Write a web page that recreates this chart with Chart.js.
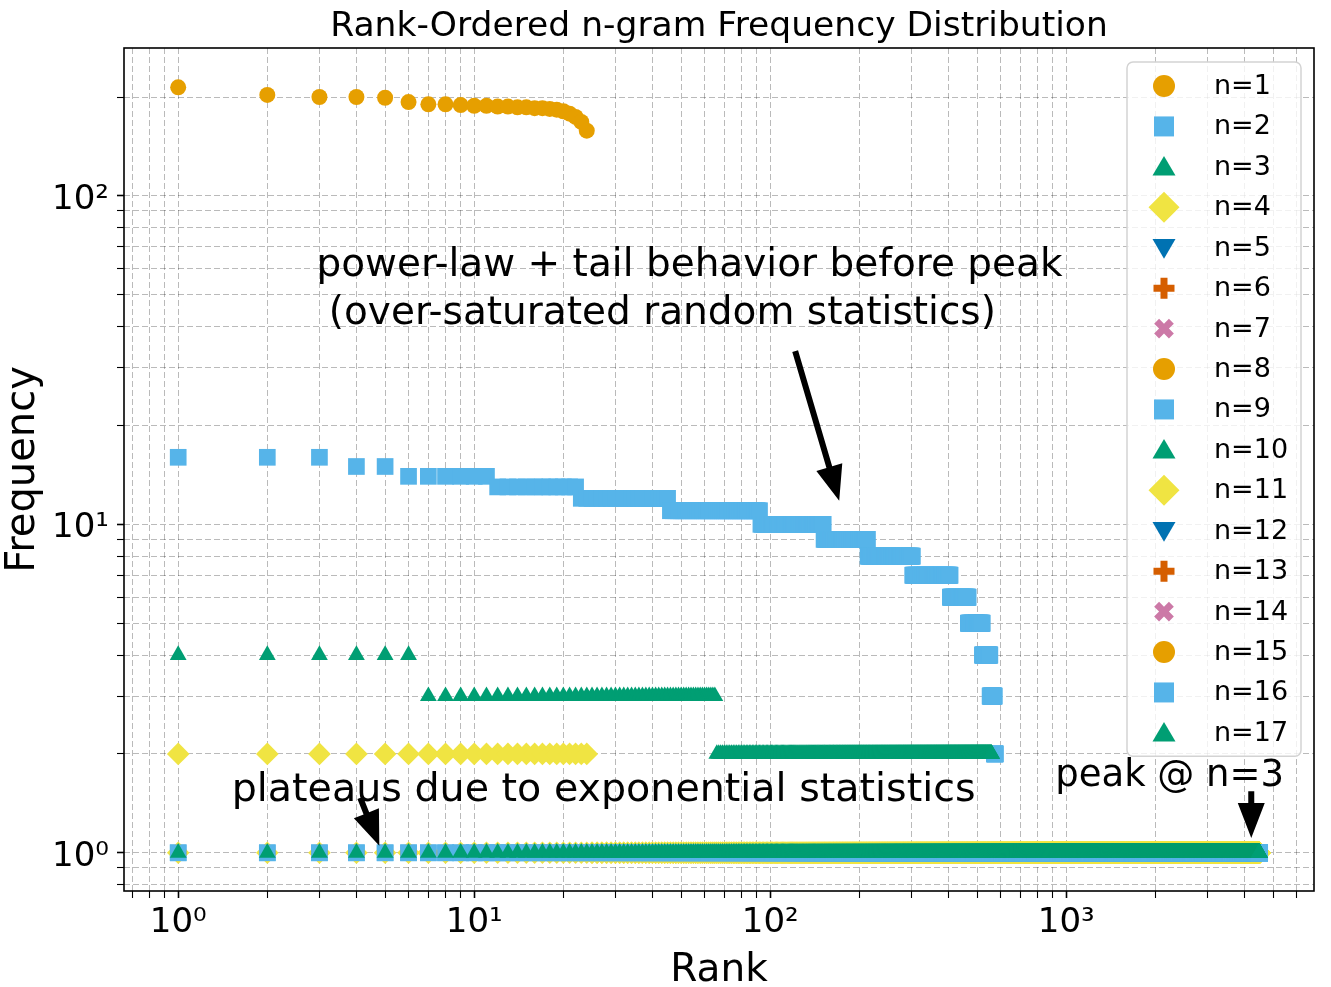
<!DOCTYPE html>
<html lang="en">
<head>
<meta charset="UTF-8">
<title>Rank-Ordered n-gram Frequency Distribution</title>
<script src="https://cdn.jsdelivr.net/npm/chart.js"></script>
<style>
  html, body { margin: 0; padding: 0; background: #fff; }
  #chart { display: block; }
</style>
</head>
<body>
<canvas id="chart" width="1331" height="987"></canvas>
<script>
const seriesLabels = ['n=1', 'n=2', 'n=3', 'n=4', 'n=5', 'n=6', 'n=7', 'n=8', 'n=9',
                      'n=10', 'n=11', 'n=12', 'n=13', 'n=14', 'n=15', 'n=16', 'n=17'];

// n=1: one count per rank (24 symbols)
const unigramFreq = [214, 203, 200, 200, 199, 193, 190, 190, 189, 188, 188, 187,
                     187, 186, 186, 185, 185, 184, 183, 181, 178, 174, 168, 158];

// n=2..4 sit on plateaus: frequency level + how many ranks share it
const bigramLevels = [16, 15, 14, 13, 12, 11, 10, 9, 8, 7, 6, 5, 4, 3, 2];
const bigramRuns   = [3, 2, 6, 11, 23, 47, 59, 62, 89, 103, 61, 54, 32, 19, 5];
const trigramLevels = [4, 3, 2, 1];
const trigramRuns   = [6, 59, 495, 3318];
const fourgramLevels = [2, 1];
const fourgramRuns   = [24, 4460];
// n=5..17: every n-gram is seen once -> number of ranks at frequency 1
const singletonRuns = [4507, 4506, 4505, 4504, 4503, 4502, 4501, 4500, 4499, 4498, 4497, 4496, 4495];

// axis ticks
const xTickValues = [1, 10, 100, 1000];
const xTickLabels = ['10⁰', '10¹', '10²', '10³'];
const yTickValues = [1, 10, 100];
const yTickLabels = ['10⁰', '10¹', '10²'];

const FONT = "'DejaVu Sans', sans-serif";
const palette = ['#E69F00', '#56B4E9', '#009E73', '#F0E442', '#0072B2', '#D55E00', '#CC79A7'];
const shapes = ['circle', 'square', 'triangle', 'diamond', 'triangleDown', 'plus', 'cross'];

function drawMarker(c, shape, x, y, s, color) {
    const h = s / 2;
    c.fillStyle = color;
    c.beginPath();
    if (shape === 'circle') {
        c.arc(x, y, h, 0, Math.PI * 2);
    } else if (shape === 'square') {
        c.rect(x - h, y - h, s, s);
    } else if (shape === 'triangle') {
        c.moveTo(x, y - h * 0.95); c.lineTo(x + h, y + h * 0.75); c.lineTo(x - h, y + h * 0.75);
    } else if (shape === 'triangleDown') {
        c.moveTo(x, y + h * 0.95); c.lineTo(x + h, y - h * 0.75); c.lineTo(x - h, y - h * 0.75);
    } else if (shape === 'diamond') {
        c.moveTo(x, y - h); c.lineTo(x + h, y); c.lineTo(x, y + h); c.lineTo(x - h, y);
    } else {
        // filled plus, rotated 45deg for the cross
        const a = s / 6;
        const pts = [[-a, -h], [a, -h], [a, -a], [h, -a], [h, a], [a, a], [a, h], [-a, h], [-a, a], [-h, a], [-h, -a], [-a, -a]];
        const r = shape === 'cross' ? Math.PI / 4 : 0;
        const k = shape === 'cross' ? 0.95 : 1;
        pts.forEach((p, i) => {
            const px = x + k * (p[0] * Math.cos(r) - p[1] * Math.sin(r));
            const py = y + k * (p[0] * Math.sin(r) + p[1] * Math.cos(r));
            if (i === 0) c.moveTo(px, py); else c.lineTo(px, py);
        });
    }
    c.closePath();
    c.fill();
}

function makeIcon(shape, color, s) {
    const cv = document.createElement('canvas');
    cv.width = cv.height = Math.ceil(s + 2);
    drawMarker(cv.getContext('2d'), shape, cv.width / 2, cv.height / 2, s, color);
    return cv;
}

function expandRuns(levels, runs) {
    const pts = [];
    let rank = 1;
    levels.forEach((lv, i) => {
        for (let k = 0; k < runs[i]; k++) pts.push({x: rank++, y: lv});
    });
    return pts;
}

const seriesData = [
    unigramFreq.map((f, i) => ({x: i + 1, y: f})),
    expandRuns(bigramLevels, bigramRuns),
    expandRuns(trigramLevels, trigramRuns),
    expandRuns(fourgramLevels, fourgramRuns)
].concat(singletonRuns.map(n => expandRuns([1], [n])));

const datasets = seriesLabels.map((label, i) => {
    const shape = shapes[i % 7];
    const color = palette[i % 7];
    const ds = {
        label: label,
        data: seriesData[i],
        pointBackgroundColor: color,
        pointBorderWidth: 0,
        pointHoverRadius: 0,
        order: seriesLabels.length - i
    };
    if (shape === 'circle') { ds.pointStyle = 'circle'; ds.pointRadius = 8; }
    else if (shape === 'square') { ds.pointStyle = 'rect'; ds.pointRadius = 11.8; }
    else if (shape === 'triangle') { ds.pointStyle = 'triangle'; ds.pointRadius = 9.7; }
    else if (shape === 'triangleDown') { ds.pointStyle = 'triangle'; ds.pointRadius = 8.2; ds.pointRotation = 180; }
    else if (shape === 'diamond') { ds.pointStyle = 'rectRot'; ds.pointRadius = 11.3; }
    else { ds.pointStyle = makeIcon(shape, color, 16); ds.pointRadius = 8; }
    return ds;
});

// grid positions: 1..9 in every decade that falls inside the axis
function decadeGrid(lo, hi) {
    const out = [];
    [0.1, 1, 10, 100, 1000].forEach(d => {
        for (let m = 1; m <= 9; m++) {
            const v = +(m * d).toPrecision(3);
            if (v > lo && v < hi) out.push(v);
        }
    });
    return out;
}

const X_MIN = 0.656, X_MAX = 6870, Y_MIN = 0.765, Y_MAX = 282;

const notes = [
    {lines: ['power-law + tail behavior before peak', ' (over-saturated random statistics)'], x: 2.93, y: 57.0, size: 39},
    {lines: ['plateaus due to exponential statistics'], x: 1.516, y: 1.44, size: 39.6},
    {lines: ['peak @ n=3'], x: 918, y: 1.60, size: 37}
];
const arrows = [
    {from: [121.4, 33.7], to: [171, 11.8]},
    {from: [4.12, 1.47], to: [4.78, 1.05]},
    {from: [4217, 1.54], to: [4217, 1.11]}
];

function drawArrow(c, x1, y1, x2, y2) {
    const shaft = 6, headW = 27, headL = 35;
    const len = Math.hypot(x2 - x1, y2 - y1);
    const ux = (x2 - x1) / len, uy = (y2 - y1) / len, px = -uy, py = ux;
    const bx = x2 - ux * headL, by = y2 - uy * headL;
    c.fillStyle = '#000';
    c.beginPath();
    c.moveTo(x1 + px * shaft / 2, y1 + py * shaft / 2);
    c.lineTo(bx + px * shaft / 2, by + py * shaft / 2);
    c.lineTo(bx + px * headW / 2, by + py * headW / 2);
    c.lineTo(x2, y2);
    c.lineTo(bx - px * headW / 2, by - py * headW / 2);
    c.lineTo(bx - px * shaft / 2, by - py * shaft / 2);
    c.lineTo(x1 - px * shaft / 2, y1 - py * shaft / 2);
    c.closePath();
    c.fill();
}

const overlay = {
    id: 'overlay',
    afterDatasetsDraw(chart) {
        const {ctx, chartArea: a} = chart;
        ctx.save();
        ctx.strokeStyle = '#000';
        ctx.lineWidth = 1.6;
        ctx.strokeRect(a.left, a.top, a.right - a.left, a.bottom - a.top);
        ctx.restore();
    },
    afterDraw(chart) {
        const {ctx, chartArea: a, scales: {x, y}} = chart;
        ctx.save();
        // annotations
        ctx.fillStyle = '#000';
        ctx.textAlign = 'left';
        ctx.textBaseline = 'alphabetic';
        notes.forEach(n => {
            ctx.font = n.size + 'px ' + FONT;
            const px = x.getPixelForValue(n.x), py = y.getPixelForValue(n.y);
            n.lines.forEach((t, i) => ctx.fillText(t, px, py + i * 48));
        });
        arrows.forEach(ar => drawArrow(ctx,
            x.getPixelForValue(ar.from[0]), y.getPixelForValue(ar.from[1]),
            x.getPixelForValue(ar.to[0]), y.getPixelForValue(ar.to[1])));

        // legend box, upper right
        const w = 174, rowH = 40.43;
        const h = rowH * seriesLabels.length + 7;
        const lx = a.right - 13 - w, ly = a.top + 14;
        ctx.beginPath();
        ctx.roundRect(lx, ly, w, h, 6);
        ctx.fillStyle = 'rgba(255,255,255,0.8)';
        ctx.fill();
        ctx.strokeStyle = '#d3d3d3';
        ctx.lineWidth = 1.5;
        ctx.stroke();
        ctx.font = '27px ' + FONT;
        ctx.textBaseline = 'middle';
        const sizes = {circle: 22, square: 20, triangle: 23, triangleDown: 23, diamond: 31, plus: 21, cross: 22};
        seriesLabels.forEach((lab, i) => {
            const cy = ly + 24 + i * rowH;
            const shape = shapes[i % 7];
            drawMarker(ctx, shape, lx + 37, cy, sizes[shape], palette[i % 7]);
            ctx.fillStyle = '#000';
            ctx.fillText(lab, lx + 87, cy + 1);
        });
        ctx.restore();
    }
};

const gridOpts = (majors) => ({
    color: 'rgba(0,0,0,0.27)',
    lineWidth: 1,
    tickLength: 7,
    tickColor: '#000',
    tickWidth: c => (c.tick && majors.includes(c.tick.value)) ? 1.6 : 1.1
});

new Chart(document.getElementById('chart'), {
    type: 'scatter',
    data: {datasets: datasets},
    options: {
        responsive: false,
        animation: false,
        events: [],
        parsing: false,
        normalized: true,
        layout: {padding: {left: 0, right: 17, top: 0, bottom: 0}},
        plugins: {
            legend: {display: false},
            tooltip: {enabled: false},
            title: {
                display: true,
                text: 'Rank-Ordered n-gram Frequency Distribution',
                fullSize: false,
                color: '#000',
                font: {family: FONT, size: 34.5, weight: 'normal', lineHeight: 1.2},
                padding: {top: 6.5, bottom: 0.1}
            }
        },
        scales: {
            x: {
                type: 'logarithmic',
                position: 'bottom',
                min: X_MIN,
                max: X_MAX,
                afterBuildTicks: s => { s.ticks = decadeGrid(X_MIN, X_MAX).map(v => ({value: v})); },
                afterFit: s => { s.height = 96; },
                grid: gridOpts(xTickValues),
                border: {display: false, dash: [6, 3]},
                ticks: {
                    autoSkip: false,
                    maxRotation: 0,
                    padding: 5,
                    color: '#000',
                    font: {family: FONT, size: 34},
                    callback: v => { const k = xTickValues.indexOf(v); return k >= 0 ? xTickLabels[k] : ''; }
                },
                title: {
                    display: true,
                    text: 'Rank',
                    color: '#000',
                    font: {family: FONT, size: 39, lineHeight: 0.8},
                    padding: {top: 0, bottom: 1}
                }
            },
            y: {
                type: 'logarithmic',
                position: 'left',
                min: Y_MIN,
                max: Y_MAX,
                afterBuildTicks: s => { s.ticks = decadeGrid(Y_MIN, Y_MAX).map(v => ({value: v})); },
                afterFit: s => { s.width = 124; },
                grid: gridOpts(yTickValues),
                border: {display: false, dash: [6, 3]},
                ticks: {
                    autoSkip: false,
                    padding: 8,
                    labelOffset: 4,
                    color: '#000',
                    font: {family: FONT, size: 34},
                    callback: v => { const k = yTickValues.indexOf(v); return k >= 0 ? yTickLabels[k] : ''; }
                },
                title: {
                    display: true,
                    text: 'Frequency',
                    color: '#000',
                    font: {family: FONT, size: 40, lineHeight: 0.8},
                    padding: {top: 8, bottom: 0}
                }
            }
        }
    },
    plugins: [overlay]
});
</script>
</body>
</html>
